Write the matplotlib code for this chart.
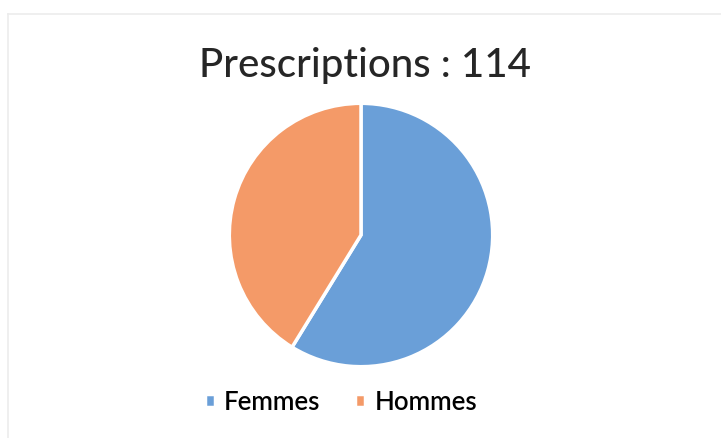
import matplotlib.pyplot as plt
from matplotlib.lines import Line2D

# Data
labels = ['Femmes', 'Hommes']
counts = [67, 47]
colors = ['#6a9fd8', '#f49a68']
total = sum(counts)

plt.rcParams['font.family'] = ['Lato', 'DejaVu Sans']

fig = plt.figure(figsize=(7.21, 4.39), dpi=100)
fig.patch.set_facecolor('white')

# pie: center ~ (361, 236) px, radius ~133 px
W, H = 721, 439
cx, cy, r = 361, 236, 133
ax = fig.add_axes([(cx - r) / W, 1 - (cy + r) / H, 2 * r / W, 2 * r / H])
wedges, _ = ax.pie(counts, colors=colors, startangle=90, counterclock=False,
                   wedgeprops=dict(edgecolor='white', linewidth=2.5))
ax.set_xlim(-1.01, 1.01)
ax.set_ylim(-1.01, 1.01)
ax.set_aspect('equal')

fig.text(365 / W, 1 - 66 / H, f'Prescriptions : {total}', ha='center', va='center',
         fontsize=29, fontweight='medium', color='#262626')

# legend
fig.legend(wedges, labels, loc='center', bbox_to_anchor=(341 / W, 1 - 403 / H),
           ncol=2, frameon=False, handlelength=0.4, handleheight=0.4,
           handletextpad=0.35, columnspacing=1.35,
           prop=dict(size=18.5, weight='semibold'))

# faint frame from scan
fig.add_artist(Line2D([8 / W, 1], [1 - 15 / H, 1 - 15 / H], color='#ececec', lw=1.2))
fig.add_artist(Line2D([8 / W, 8 / W], [0, 1 - 15 / H], color='#ececec', lw=1.2))

fig.savefig('out.png', dpi=100)
